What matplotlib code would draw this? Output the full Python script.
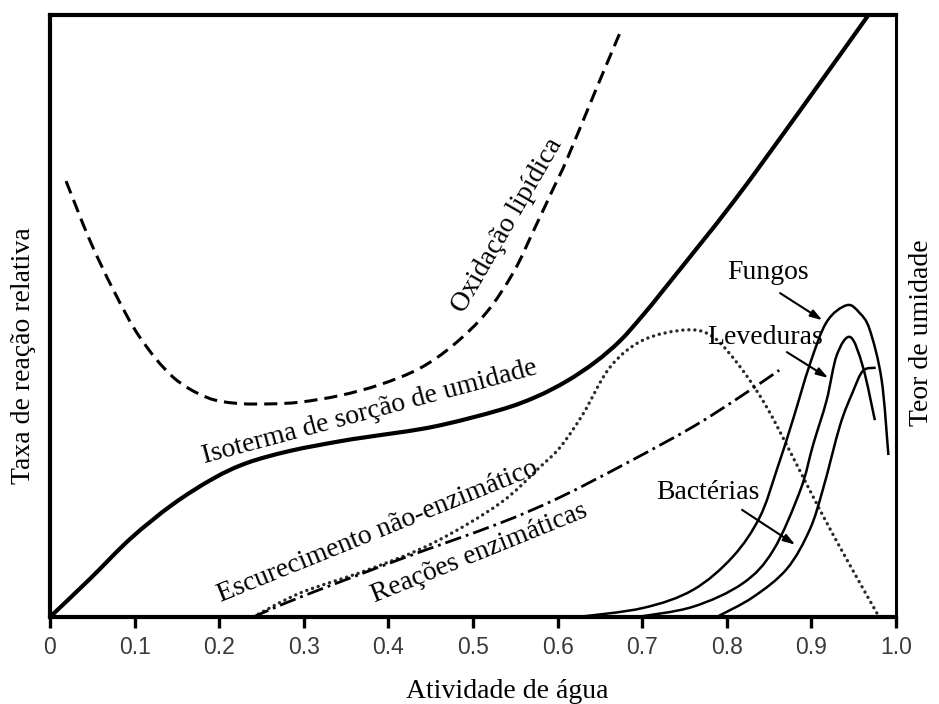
import matplotlib.pyplot as plt
from matplotlib.path import Path
from matplotlib.patches import PathPatch

plt.rcParams['font.family'] = ['Liberation Serif', 'DejaVu Serif']

# ---- dados (x = atividade de agua, y = escala relativa 0-100) ----
aw_isoterma = [0, 0.047, 0.095, 0.145, 0.193, 0.233, 0.284, 0.343, 0.375, 0.453, 0.532,
               0.575, 0.611, 0.645, 0.674, 0.700, 0.729, 0.808, 0.887, 0.970]
y_isoterma = [0, 6.3, 13.0, 18.7, 23.0, 25.6, 27.6, 29.2, 29.9, 31.6, 34.4,
              36.6, 39.2, 42.4, 45.9, 50.0, 55.0, 69.0, 84.2, 100.5]

aw_lipidica = [0.019, 0.047, 0.075, 0.106, 0.145, 0.185, 0.22, 0.26, 0.296, 0.343, 0.39,
               0.437, 0.477, 0.516, 0.548, 0.571, 0.595, 0.611, 0.645, 0.676]
y_lipidica = [72.4, 62.6, 54.3, 46.5, 39.9, 36.5, 35.5, 35.4, 35.7, 36.8, 38.6,
              41.3, 45.2, 50.6, 57.3, 64.0, 71.2, 76.0, 87.5, 97.8]

aw_escurecimento = [0.240, 0.296, 0.375, 0.453, 0.532, 0.579, 0.603, 0.630, 0.662, 0.701,
                    0.753, 0.784, 0.816, 0.847, 0.878, 0.910, 0.942, 0.978]
y_escurecimento = [0, 4.0, 7.8, 12.3, 18.9, 24.9, 28.2, 33.7, 41.5, 46.0,
                   47.7, 46.5, 41.5, 34.9, 26.6, 17.8, 9.5, 0.5]

aw_enzimaticas = [0.240, 0.296, 0.414, 0.532, 0.603, 0.682, 0.760, 0.816, 0.862]
y_enzimaticas = [0, 3.3, 9.6, 15.6, 19.9, 25.6, 31.6, 36.6, 41.0]

aw_fungos = [0.624, 0.701, 0.760, 0.807, 0.839, 0.859, 0.878, 0.898, 0.918, 0.942,
             0.957, 0.969, 0.983, 0.991]
y_fungos = [0, 1.5, 4.5, 10.0, 16.6, 24.4, 32.7, 41.9, 49.0, 51.8,
            50.5, 47.7, 39.4, 26.9]

aw_leveduras = [0.694, 0.760, 0.819, 0.855, 0.887, 0.902, 0.918, 0.930, 0.946, 0.961, 0.975]
y_leveduras = [0, 1.7, 5.6, 11.1, 21.1, 28.6, 36.0, 43.5, 46.5, 41.5, 32.7]

aw_bacterias = [0.788, 0.831, 0.871, 0.898, 0.914, 0.934, 0.949, 0.961, 0.976]
y_bacterias = [0, 3.3, 8.0, 14.5, 21.4, 31.9, 37.4, 40.9, 41.4]

ticks_x = [0, 0.1, 0.2, 0.3, 0.4, 0.5, 0.6, 0.7, 0.8, 0.9, 1.0]
ticks_txt = ['0', '0.1', '0.2', '0.3', '0.4', '0.5', '0.6', '0.7', '0.8', '0.9', '1.0']


def curva_suave(ax, xs, ys, **kw):
    # caminho Bezier (Catmull-Rom) passando pelos pontos lidos
    pts = list(zip(xs, ys))
    n = len(pts)
    verts = [pts[0]]
    codes = [Path.MOVETO]
    for i in range(n - 1):
        p0 = pts[max(i - 1, 0)]
        p1 = pts[i]
        p2 = pts[i + 1]
        p3 = pts[min(i + 2, n - 1)]
        c1 = (p1[0] + (p2[0] - p0[0]) / 6, p1[1] + (p2[1] - p0[1]) / 6)
        c2 = (p2[0] - (p3[0] - p1[0]) / 6, p2[1] - (p3[1] - p1[1]) / 6)
        verts += [c1, c2, p2]
        codes += [Path.CURVE4] * 3
    patch = PathPatch(Path(verts, codes), facecolor='none', **kw)
    ax.add_patch(patch)
    return patch


fig = plt.figure(figsize=(9.39, 7.04), dpi=100)
ax = fig.add_axes([50 / 939, 87 / 704, 846 / 939, 602 / 704])

# curvas
curva_suave(ax, aw_isoterma, y_isoterma, edgecolor='black', linewidth=3, capstyle='butt')
curva_suave(ax, aw_lipidica, y_lipidica, edgecolor='black', linewidth=2.2,
            linestyle=(0, (4.3, 2.3)))
curva_suave(ax, aw_escurecimento, y_escurecimento, edgecolor='#2a2a2a', linewidth=2.4,
            linestyle=(0, (0.05, 1.75)), capstyle='round')
curva_suave(ax, aw_enzimaticas, y_enzimaticas, edgecolor='black', linewidth=2.0,
            linestyle=(0, (6, 1.8, 1, 1.8)))
for xs, ys in [(aw_fungos, y_fungos), (aw_leveduras, y_leveduras), (aw_bacterias, y_bacterias)]:
    curva_suave(ax, xs, ys, edgecolor='black', linewidth=1.8)

# rotulos das curvas
fs = 20
ax.text(0.378, 34.1, 'Isoterma de sorção de umidade', fontsize=fs, rotation=15,
        rotation_mode='anchor', ha='center', va='center')
ax.text(0.541, 65.1, 'Oxidação lipídica', fontsize=fs, rotation=60,
        rotation_mode='anchor', ha='center', va='center')
ax.text(0.387, 14.1, 'Escurecimento não-enzimático', fontsize=fs, rotation=22,
        rotation_mode='anchor', ha='center', va='center')
ax.text(0.508, 10.6, 'Reações enzimáticas', fontsize=fs, rotation=22,
        rotation_mode='anchor', ha='center', va='center')

seta = dict(arrowstyle='-|>,head_length=0.7,head_width=0.22', color='black', lw=1.5,
            shrinkA=0, shrinkB=0)
ax.text(0.849, 57.3, 'Fungos', fontsize=fs, ha='center', va='center')
ax.annotate('', xy=(0.913, 49.3), xytext=(0.863, 53.8), arrowprops=seta)
ax.text(0.845, 46.5, 'Leveduras', fontsize=fs, ha='center', va='center')
ax.annotate('', xy=(0.920, 39.7), xytext=(0.871, 44.0), arrowprops=seta)
ax.text(0.778, 20.6, 'Bactérias', fontsize=fs, ha='center', va='center')
ax.annotate('', xy=(0.881, 12.0), xytext=(0.818, 17.8), arrowprops=seta)

# eixos
ax.set_xlim(0, 1.0)
ax.set_ylim(0, 100)
ax.set_yticks([])
ax.set_xticks(ticks_x)
ax.set_xticklabels(ticks_txt, family=['Liberation Sans', 'DejaVu Sans'],
                   fontsize=16.5, color='#3a3a3a')
ax.tick_params(axis='x', direction='out', length=8, width=2.4, pad=6)
for lado in ['left', 'bottom', 'top']:
    ax.spines[lado].set_linewidth(3)
ax.spines['right'].set_linewidth(2.2)

fig.text(507 / 939, 1 - 692 / 704, 'Atividade de água', fontsize=fs, ha='center', va='center')
fig.text(24 / 939, 1 - 356 / 704, 'Taxa de reação relativa', fontsize=fs, rotation=90,
         ha='center', va='center')
fig.text(922 / 939, 1 - 333 / 704, 'Teor de umidade', fontsize=fs, rotation=90,
         ha='center', va='center')

fig.savefig('out.png', dpi=100, facecolor='white')
